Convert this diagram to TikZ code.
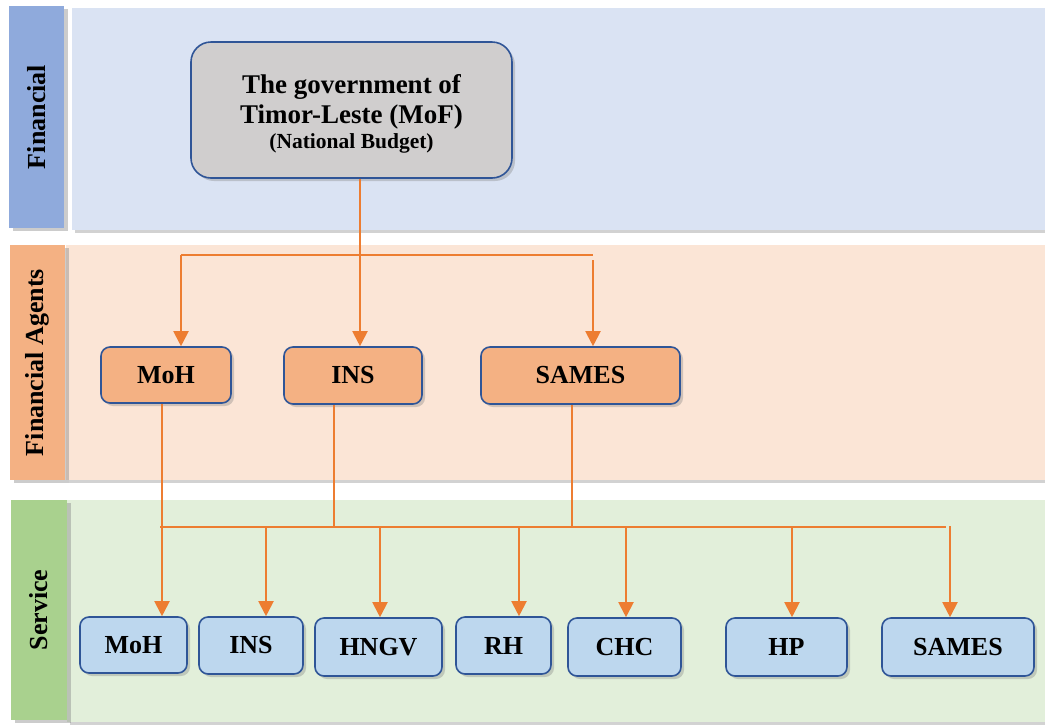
\documentclass[tikz,border=0pt]{standalone}
\usepackage{fontspec}
\setmainfont{Liberation Serif}
\usetikzlibrary{shadows,arrows.meta}
\definecolor{bgA}{HTML}{DAE3F3}
\definecolor{stA}{HTML}{8FAADC}
\definecolor{bgB}{HTML}{FBE5D6}
\definecolor{stB}{HTML}{F4B183}
\definecolor{bgC}{HTML}{E2EFDA}
\definecolor{stC}{HTML}{A9D18E}
\definecolor{govfill}{HTML}{D0CECE}
\definecolor{agfill}{HTML}{F4B183}
\definecolor{svfill}{HTML}{BDD7EE}
\definecolor{edge}{HTML}{2F5597}
\definecolor{orng}{HTML}{ED7D31}
\tikzset{
  shad/.style={drop shadow={shadow xshift=3pt, shadow yshift=-3pt, opacity=0.35}},
  band/.style={shad},
  strip/.style={drop shadow={shadow xshift=4pt, shadow yshift=-3pt, opacity=0.4}, rotate=90, inner sep=0pt, font=\fontsize{26}{30}\selectfont\bfseries},
  box/.style={draw=edge, line width=1.6pt, rounded corners=9pt, shad, inner sep=0pt,
    font=\fontsize{26}{30}\selectfont\bfseries},
  agent/.style={box, fill=agfill},
  svc/.style={box, fill=svfill},
  conn/.style={draw=orng, line width=2pt},
  arr/.style={conn, -{Triangle[length=15pt,width=15pt]}},
}
\begin{document}
\begin{tikzpicture}[x=1pt,y=-1pt]
\useasboundingbox[fill=white] (0,0) rectangle (1045,724);
% bands
\path[band, fill=bgA] (72,8) rectangle (1045,230);
\path[band, fill=bgB] (66,245) rectangle (1045,480);
\path[band, fill=bgC] (67,500) rectangle (1045,722);
\node[strip, fill=stA, minimum width=222pt, minimum height=55pt] (labA) at (36.5,117) {Financial};
\node[strip, fill=stB, minimum width=235pt, minimum height=55pt] (labB) at (37.5,362.5) {Financial Agents};
\node[strip, fill=stC, minimum width=220pt, minimum height=56pt] (labC) at (39,610) {Service};
% government box
\node[box, fill=govfill, rounded corners=20pt, minimum width=321pt, minimum height=136pt, align=center] (gov) at (351.5,110)
  {\rule{0pt}{27pt}\fontsize{27}{30}\selectfont The government of\\ \fontsize{27}{30}\selectfont Timor-Leste (MoF)\\[-5pt] \fontsize{21.5}{24}\selectfont (National Budget)};
% agents
\node[agent, minimum width=130pt, minimum height=56pt] (aMoH) at (166,375) {MoH};
\node[agent, minimum width=138pt, minimum height=57pt] (aINS) at (353,375.5) {INS};
\node[agent, minimum width=199pt, minimum height=57pt] (aSAM) at (580.5,375.5) {SAMES};
% services
\node[svc, minimum width=107pt, minimum height=56pt] (sMoH) at (133.5,645) {MoH};
\node[svc, minimum width=104pt, minimum height=57pt] (sINS) at (251,645.5) {INS};
\node[svc, minimum width=127pt, minimum height=58pt] (sHNGV) at (378.5,647) {HNGV};
\node[svc, minimum width=95pt, minimum height=57pt] (sRH) at (503.5,645.5) {RH};
\node[svc, minimum width=113pt, minimum height=58pt] (sCHC) at (624.5,647) {CHC};
\node[svc, minimum width=121pt, minimum height=58pt] (sHP) at (786.5,647) {HP};
\node[svc, minimum width=152pt, minimum height=58pt] (sSAM) at (958,647) {SAMES};
% upper connectors
\coordinate (j1) at (360,255);
\coordinate (hL) at (181,255);
\coordinate (hR) at (593,255);
\coordinate (hRb) at (593,260);
\draw[conn] (gov.south -| j1) -- (j1);
\draw[conn] (hL) -- (hR);
\draw[arr] (hL) -- (aMoH.north -| hL);
\draw[arr] (j1) -- (aINS.north -| j1);
\draw[arr] (hRb) -- (aSAM.north -| hRb);
% lower connectors
\coordinate (m1) at (162,527);
\coordinate (i1) at (334,527);
\coordinate (s1) at (572,527);
\coordinate (hl2) at (160,527);
\coordinate (hr2) at (946,527);
\coordinate (t1) at (266,527);
\coordinate (t2) at (380,527);
\coordinate (t3) at (519,527);
\coordinate (t4) at (626,527);
\coordinate (t5) at (792,527);
\coordinate (t6) at (950,526);
\draw[conn] (hl2) -- (hr2);
\draw[arr] (aMoH.south -| m1) -- (sMoH.north -| m1);
\draw[conn] (aINS.south -| i1) -- (i1);
\draw[conn] (aSAM.south -| s1) -- (s1);
\draw[arr] (t1) -- (sINS.north -| t1);
\draw[arr] (t2) -- (sHNGV.north -| t2);
\draw[arr] (t3) -- (sRH.north -| t3);
\draw[arr] (t4) -- (sCHC.north -| t4);
\draw[arr] (t5) -- (sHP.north -| t5);
\draw[arr] (t6) -- (sSAM.north -| t6);
\end{tikzpicture}
\end{document}
